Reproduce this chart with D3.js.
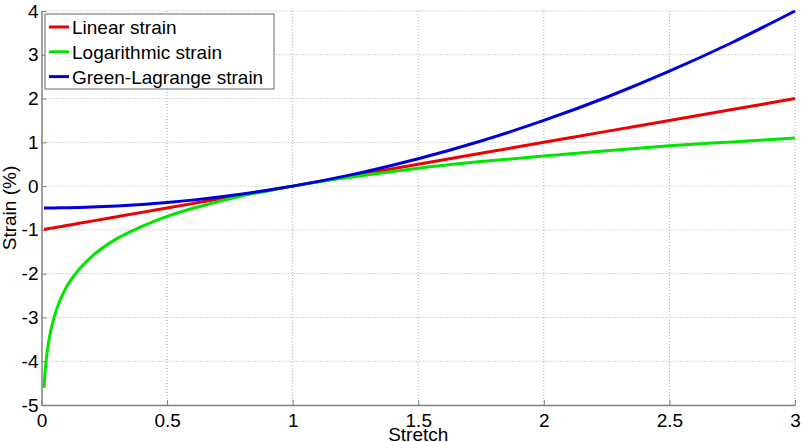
<!DOCTYPE html>
<html>
<head>
<meta charset="utf-8">
<title>Strain vs Stretch</title>
<script src="https://cdn.jsdelivr.net/npm/d3@7"></script>
<style>
body { margin: 0; background: #fff; }
svg { display: block; font-family: Arial, "Liberation Sans", sans-serif; }
</style>
</head>
<body>
<svg id="chart" width="803" height="442"></svg>
<script>
// values
var stretch   = [0.01, 0.015, 0.02, 0.03, 0.05, 0.075, 0.1, 0.15, 0.2, 0.3, 0.4, 0.5, 0.6, 0.7, 0.8, 0.9, 1, 1.25, 1.5, 1.75, 2, 2.25, 2.5, 2.75, 3];
var linear    = [-0.99, -0.985, -0.98, -0.97, -0.95, -0.925, -0.9, -0.85, -0.8, -0.7, -0.6, -0.5, -0.4, -0.3, -0.2, -0.1, 0, 0.25, 0.5, 0.75, 1, 1.25, 1.5, 1.75, 2];
var logStrain = [-4.61, -4.2, -3.91, -3.51, -3.0, -2.59, -2.3, -1.9, -1.61, -1.2, -0.92, -0.69, -0.51, -0.36, -0.22, -0.11, 0, 0.22, 0.41, 0.56, 0.69, 0.81, 0.92, 1.01, 1.1];
var greenLag  = [-0.5, -0.5, -0.5, -0.5, -0.499, -0.497, -0.495, -0.489, -0.48, -0.455, -0.42, -0.375, -0.32, -0.255, -0.18, -0.095, 0, 0.28, 0.625, 1.03, 1.5, 2.03, 2.625, 3.28, 4.0];

var seriesNames  = ['Linear strain', 'Logarithmic strain', 'Green-Lagrange strain'];
var seriesColors = ['#ee0000', '#00e600', '#0000dd'];
var seriesValues = [linear, logStrain, greenLag];

var xTicks = [0, 0.5, 1, 1.5, 2, 2.5, 3];
var yTicks = [-5, -4, -3, -2, -1, 0, 1, 2, 3, 4];

var svg = d3.select('#chart');
var pLeft = 41.5, pRight = 795, pTop = 11, pBottom = 405;

var x = d3.scaleLinear().domain([0, 3]).range([pLeft, pRight]);
var y = d3.scaleLinear().domain([-5, 4]).range([pBottom, pTop]);

// dotted grid
var grid = svg.append('g');
grid.selectAll('.vg').data(xTicks.slice(1)).enter().append('line')
  .attr('x1', function(d) { return x(d); }).attr('x2', function(d) { return x(d); })
  .attr('y1', pTop).attr('y2', pBottom)
  .attr('stroke', '#aaa').attr('stroke-width', 1).attr('stroke-dasharray', '1,2');
grid.selectAll('.hg').data(yTicks.slice(1)).enter().append('line')
  .attr('x1', pLeft).attr('x2', pRight)
  .attr('y1', function(d) { return y(d); }).attr('y2', function(d) { return y(d); })
  .attr('stroke', '#aaa').attr('stroke-width', 1).attr('stroke-dasharray', '1,2');

// axes
var xAxis = d3.axisBottom(x).tickValues(xTicks).tickSizeInner(-5).tickSizeOuter(0).tickPadding(9)
  .tickFormat(function(d) { return String(d); });
var yAxis = d3.axisLeft(y).tickValues(yTicks).tickSizeInner(-5).tickSizeOuter(0).tickPadding(8)
  .tickFormat(function(d) { return String(d); });

var gx = svg.append('g').attr('transform', 'translate(0,' + pBottom + ')').call(xAxis);
var gy = svg.append('g').attr('transform', 'translate(' + pLeft + ',0)').call(yAxis);
[gx, gy].forEach(function(g) {
  g.select('.domain').attr('stroke', '#808080').attr('stroke-width', 1.5);
  g.selectAll('.tick line').attr('stroke', '#808080');
  g.selectAll('.tick text').attr('fill', '#000').style('font-size', '19px')
    .style('font-family', 'Arial, "Liberation Sans", sans-serif');
});
gy.selectAll('.tick text').attr('x', -3);

// curves
var line = d3.line()
  .x(function(d) { return x(d[0]); })
  .y(function(d) { return y(d[1]); })
  .curve(d3.curveMonotoneX);

seriesValues.forEach(function(vals, i) {
  svg.append('path')
    .datum(stretch.map(function(s, j) { return [s, vals[j]]; }))
    .attr('d', line)
    .attr('fill', 'none')
    .attr('stroke', seriesColors[i])
    .attr('stroke-width', 3)
    .attr('stroke-linejoin', 'round');
});

// axis titles
svg.append('text').attr('x', (pLeft + pRight) / 2).attr('y', 441)
  .attr('text-anchor', 'middle').style('font-size', '19px').text('Stretch');
svg.append('text').attr('transform', 'translate(16,' + ((pTop + pBottom) / 2) + ') rotate(-90)')
  .attr('text-anchor', 'middle').style('font-size', '19px').text('Strain (%)');

// legend
var lg = svg.append('g');
lg.append('rect').attr('x', 45).attr('y', 14).attr('width', 229).attr('height', 75)
  .attr('fill', '#fff').attr('stroke', '#808080').attr('stroke-width', 1.2);
seriesNames.forEach(function(name, i) {
  var yy = 27 + i * 24.8;
  lg.append('line').attr('x1', 49).attr('x2', 69).attr('y1', yy).attr('y2', yy)
    .attr('stroke', seriesColors[i]).attr('stroke-width', 3);
  lg.append('text').attr('x', 72).attr('y', yy + 7).style('font-size', '19px').text(name);
});
</script>
</body>
</html>
